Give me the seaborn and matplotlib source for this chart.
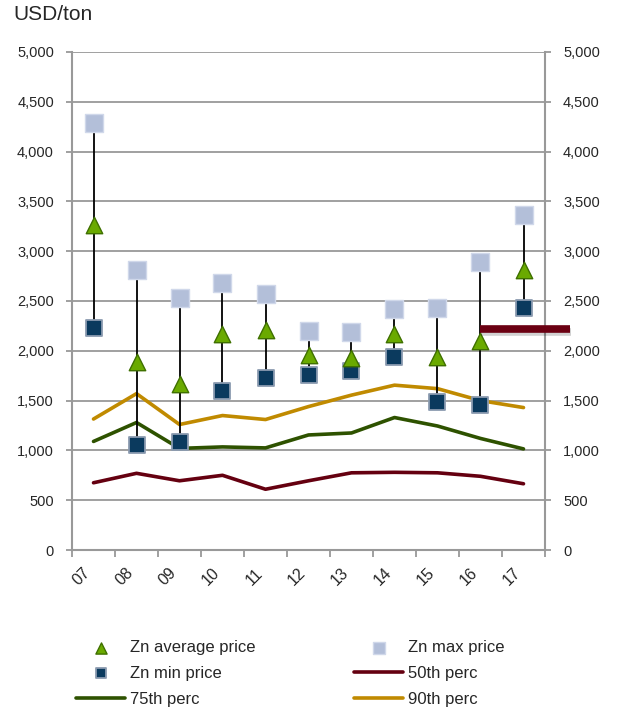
import numpy as np
import pandas as pd
import matplotlib
matplotlib.use("Agg")
import matplotlib.pyplot as plt
import matplotlib.patheffects as pe
import matplotlib.transforms as mtrans
from matplotlib.ticker import FuncFormatter, FixedLocator
import seaborn as sns

years = ["07", "08", "09", "10", "11", "12", "13", "14", "15", "16", "17"]
zn_avg = [3260, 1890, 1670, 2170, 2210, 1960, 1930, 2170, 1940, 2100, 2810]
zn_max = [4290, 2810, 2530, 2680, 2570, 2200, 2190, 2420, 2430, 2890, 3365]
zn_min = [2230, 1055, 1080, 1600, 1725, 1760, 1800, 1940, 1485, 1460, 2430]
p50 = [675, 770, 695, 750, 610, 695, 775, 780, 775, 740, 665]
p75 = [1090, 1280, 1020, 1035, 1025, 1155, 1175, 1330, 1245, 1120, 1015]
p90 = [1315, 1570, 1260, 1350, 1310, 1440, 1555, 1655, 1620, 1500, 1430]
target_price = 2220
yticks = [0, 500, 1000, 1500, 2000, 2500, 3000, 3500, 4000, 4500, 5000]

sns.set_style("white")
plt.rcParams['font.family'] = ['Liberation Sans', 'DejaVu Sans']

pos = np.arange(len(years))
df = pd.DataFrame({"pos": pos, "avg": zn_avg, "max": zn_max, "min": zn_min,
                   "p50": p50, "p75": p75, "p90": p90})

fig = plt.figure(figsize=(6.18, 7.10), dpi=100)
ax = fig.add_axes([72/618, 1-550/710, 473/618, 498/710])

grid_c = "#999999"
for v in yticks[1:]:
    ax.axhline(v, color=grid_c, lw=1.3, zorder=0)

c50, c75, c90 = "#650010", "#2E5200", "#C08A00"
sns.lineplot(data=df, x="pos", y="p50", color=c50, lw=2.6, ax=ax, label="50th perc", zorder=2)
sns.lineplot(data=df, x="pos", y="p75", color=c75, lw=2.6, ax=ax, label="75th perc", zorder=2)
sns.lineplot(data=df, x="pos", y="p90", color=c90, lw=2.6, ax=ax, label="90th perc", zorder=2)

ax.vlines(df["pos"], df["min"], df["max"], color="black", lw=1.3, zorder=3)

sns.scatterplot(data=df, x="pos", y="max", marker="s", s=150, color="#B3BFD9",
                edgecolor="#D0D8EA", linewidth=1.0, ax=ax, label="Zn max price", zorder=4)
sns.scatterplot(data=df, x="pos", y="min", marker="s", s=130, color="#0B3A5E",
                edgecolor="#8B9BB0", linewidth=1.3, ax=ax, label="Zn min price", zorder=4)
sns.scatterplot(data=df, x="pos", y="avg", marker="^", s=140, color="#6AAA00",
                edgecolor="#3F7000", linewidth=1.0, ax=ax, label="Zn average price", zorder=5)

ax.hlines(target_price, 9, 11.08, color="#6B0012", lw=5.5, zorder=6, clip_on=False,
          path_effects=[pe.SimpleLineShadow(offset=(0.5, -2.5), alpha=0.18, rho=0.3), pe.Normal()])

ax.set_xlim(-0.5, len(years) - 0.5)
ax.set_ylim(0, 5000)
ax.set_xlabel("")
ax.set_ylabel("")

ax.set_xticks(pos)
ax.set_xticklabels(years, rotation=45, ha="right", fontsize=11.5)
shift = mtrans.ScaledTranslation(4/100, 0, fig.dpi_scale_trans)
for lbl in ax.get_xticklabels():
    lbl.set_transform(lbl.get_transform() + shift)
ax.xaxis.set_minor_locator(FixedLocator(np.arange(-0.5, len(years), 1.0)))
ax.tick_params(axis="x", which="major", length=0, pad=11)
ax.tick_params(axis="x", which="minor", length=5, width=1.3, color=grid_c, direction="out", bottom=True)

ax.set_yticks(yticks)
ax.yaxis.set_major_formatter(FuncFormatter(lambda v, p: f"{int(v):,}"))
ax.tick_params(axis="y", which="major", length=4, width=1.3, color=grid_c, direction="out",
               left=True, right=True, labelleft=True, labelright=True, labelsize=10.5, pad=9)

for s in ["left", "right", "bottom"]:
    ax.spines[s].set_color(grid_c)
    ax.spines[s].set_linewidth(1.5)
ax.spines["top"].set_visible(False)

handles, labels = ax.get_legend_handles_labels()
hmap = dict(zip(labels, handles))
order = ["Zn average price", "Zn min price", "75th perc", "Zn max price", "50th perc", "90th perc"]
if ax.get_legend():
    ax.get_legend().remove()
leg = fig.legend([hmap[l] for l in order], order, ncol=2, loc="upper left",
                 bbox_to_anchor=(76/618, 1-640/710), frameon=False, fontsize=12,
                 handlelength=2.95, handletextpad=0.3, columnspacing=5.9,
                 labelspacing=0.65, borderaxespad=0, borderpad=0, markerscale=0.68)

fig.text(13/618, 1-5/710, "USD/ton", fontsize=15, ha="left", va="top")

fig.savefig("out.png", dpi=100, facecolor="white")
